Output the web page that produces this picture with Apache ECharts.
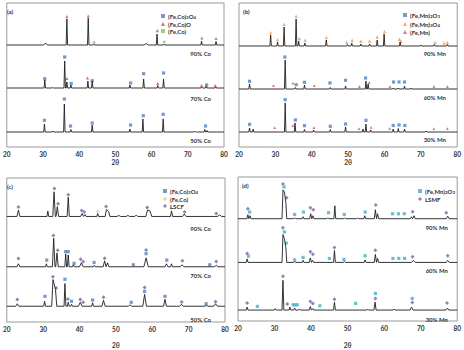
<!DOCTYPE html>
<html>
<head>
<meta charset="utf-8">
<script src="https://cdn.jsdelivr.net/npm/echarts@6/dist/echarts.min.js"></script>
<style>html,body{margin:0;padding:0;background:#fff}#chart{width:464px;height:350px}</style>
</head>
<body>
<div id="chart"></div>
<script>
// 2θ axis
const xMin = 20, xMax = 80, xStep = 10;

// sample labels (top to bottom)
const samplesA = ['90% Co', '70% Co', '50% Co'];
const samplesB = ['90% Mn', '60% Mn', '30% Mn'];
const samplesC = ['90% Co', '70% Co', '50% Co'];
const samplesD = ['90% Mn', '60% Mn', '30% Mn'];

// peaks: [2θ, height above baseline, optional half width]
const aPeaks90 = [[30.7,2,0.5],[36.6,26],[42.5,27],[44.1,0.8],[58.5,1.5,0.6],[61.5,11],[63.5,1],[73.8,4],[77.8,3.5]];
const aPeaks70 = [[30.5,8],[32.7,0.6],[36.0,27],[36.6,6],[37.7,3],[42.4,7],[43.6,7],[54.0,3],[57.8,9],[61.7,2.5],[63.3,9],[73.8,1],[75.1,2],[77.7,1]];
const aPeaks50 = [[30.4,8],[32.7,1],[35.9,28],[37.7,2.5],[43.6,7],[54.0,3],[57.6,13],[63.2,13],[71.9,0.8],[74.7,2.5],[75.3,1.5]];

const bPeaks90 = [[28.7,11],[30.6,4],[32.4,19],[35.7,27],[36.4,5],[38.1,3],[44.0,6],[49.8,1.5],[51.0,3],[53.5,2],[55.9,2],[58.0,6],[59.9,12],[64.3,4],[70.0,1],[73.7,1.5],[77.3,1.5]];
const bPeaks60 = [[22.9,5],[32.7,29],[35.5,1.5],[38.0,4],[45.1,1.5],[49.3,3],[54.9,8],[55.5,5],[62.4,1],[63.8,1],[65.5,3],[67.3,1]];
const bPeaks30 = [[22.9,4],[23.9,3],[32.7,29],[35.4,9],[38.0,2.5],[40.5,2],[45.1,2.5],[49.3,5],[54.1,3],[54.9,8],[56.2,2],[62.4,3],[63.8,3.5],[65.5,3],[71.4,1]];

const cPeaks90 = [[23.2,6.5,0.4],[31.3,5.5],[33.0,25,0.35],[33.9,10,0.35],[36.9,19.5,0.3],[40.7,3,0.4],[41.5,2,0.3],[45.0,3],[47.4,7,0.35],[48.0,5,0.35],[50.8,1,0.5],[53.3,1,0.5],[55.6,1.5,0.4],[58.7,6.5,0.45],[59.4,5.5,0.45],[65.3,5.5,0.3],[68.8,2.5,0.5],[78.5,1.5,0.6]];
const cPeaks70 = [[23.2,3,0.4],[30.9,3],[32.9,29,0.35],[33.8,14,0.35],[36.2,13],[36.9,12],[38.3,2],[40.5,4,0.5],[44.1,1.5],[46.9,6,0.4],[47.7,4,0.4],[58.3,9,0.6],[63.9,3,0.4],[65.3,3],[68.2,2,0.5],[77.6,1.5,0.5]];
const cPeaks50 = [[22.9,2.5,0.4],[30.4,5],[32.7,27,0.35],[33.4,17,0.35],[36.0,23],[36.9,4],[37.8,2],[40.2,4,0.5],[43.6,3.5],[46.6,6,0.45],[53.9,1.5,0.4],[57.9,12,0.5],[63.5,7,0.4],[68.0,2,0.5],[74.9,1,0.4],[77.4,2.5,0.5]];

const dPeaks90 = [[22.7,4],[23.3,3],[32.3,29],[32.7,27],[33.1,16],[35.5,1],[37.8,2],[39.9,5,0.3],[40.5,3,0.3],[44.6,1],[46.5,13],[49.1,1],[52.7,1],[54.7,3],[57.6,9,0.3],[58.2,5,0.3],[67.5,2,0.3],[68.2,3,0.3],[77.4,2.5,0.4]];
const dPeaks60 = [[22.5,3.5],[32.3,28],[32.7,24],[33.1,15],[35.5,1],[37.8,2],[39.8,4.5,0.3],[40.4,2,0.3],[46.4,12],[49.1,1],[54.8,2.5],[57.6,8,0.3],[58.2,4,0.3],[68.0,2,0.5],[77.4,2,0.4]];
const dPeaks30 = [[22.5,3],[30.2,1.5],[32.3,30],[34.2,3],[35.5,2],[36.8,1],[39.8,3.5,0.3],[40.5,1.5],[46.4,8],[55.5,1],[57.5,8,0.3],[62.7,1],[67.5,3,0.4],[77.3,2,0.4]];

// phase markers: [2θ, height above baseline]
const aSpinel70 = [[30.5,9.3],[36.0,31],[37.8,4.5],[43.6,7.3],[54.2,5],[57.8,14.3],[63.3,15],[75.2,3]];
const aSpinel50 = [[30.4,11.7],[35.9,33],[37.6,6],[43.6,9],[54.2,7],[57.7,16.3],[63.2,17.7],[74.9,6]];
const aMono90 = [[36.6,28.3],[42.5,29],[61.6,14.3],[73.9,7],[77.8,6.5]];
const aMono70 = [[36.6,9.5],[42.3,10],[61.7,4.5],[73.8,2.5],[77.6,2.5]];
const aMetal90 = [[44.1,2.5],[63.5,3]];

const bSpinel90 = [[28.7,13.3],[30.6,6.3],[32.4,21.7],[35.7,29.7],[36.6,7.5],[38.2,5.7],[44.0,8.5],[49.6,3.7],[51.1,5.7],[53.5,4.7],[55.9,5],[58.0,9],[60.0,14.5],[64.1,6.7],[64.5,5],[73.9,3.5],[76.4,3],[77.3,3.5]];
const bHem60 = [[22.9,7.7],[32.6,32],[35.7,4.3],[38.0,6.7],[45.0,6],[49.3,8.7],[54.8,11],[62.5,7],[64.0,7],[65.5,7]];
const bMetal60 = [[29.5,3.3],[34.8,6],[40.7,3.3],[53.1,2.5],[55.8,6.5],[61.5,2.5],[73.6,2.5],[77.3,2.5]];
const bHem30 = [[22.9,7.7],[32.7,32.3],[35.5,12],[38.0,6.3],[45.1,5.7],[49.3,8],[54.9,11.7],[62.4,6.5],[64.0,7],[65.6,6.5]];
const bMetal30 = [[29.8,4.3],[34.8,6.3],[40.6,4.5],[53.0,3.3],[56.3,4.7],[61.4,3.3],[73.6,3.3],[77.3,3.3]];

const cLscf90 = [[23.2,9.5],[33.1,28.3],[34.1,13],[36.9,22],[40.6,6],[41.3,4.5],[47.3,10],[58.6,9],[68.9,4.5],[77.6,3]];
const cMetal90 = [[45.0,5],[65.2,8]];
const cLscf70 = [[23.2,8.3],[32.8,31.7],[34.0,16.7],[40.3,7.7],[41.0,5],[46.9,8.7],[58.3,17],[68.3,6],[77.6,5.3]];
const cSpinel70 = [[31.0,6.7],[36.2,15.3],[36.9,15.3],[38.5,3.5],[44.0,4.3],[54.8,2],[58.3,13.3],[64.0,6.7],[75.8,2]];
const cLscf50 = [[22.9,6.7],[32.7,30],[33.6,18.5],[36.8,7.3],[40.2,6.7],[41.0,4],[46.6,9],[57.9,19],[68.1,4.3],[77.4,4.5]];
const cSpinel50 = [[30.5,10],[36.0,27.3],[37.8,5],[43.6,6.3],[54.2,4],[57.9,15],[63.5,10],[74.8,2.5]];

const dLsmf90 = [[22.7,10],[32.3,35],[33.3,21],[39.8,11],[40.6,9],[57.7,13.7],[67.8,7],[77.0,6]];
const dHem90 = [[23.2,6.7],[32.6,32],[35.5,4.3],[37.9,6.7],[44.8,6],[49.1,4.3],[54.8,6.7],[62.3,5],[63.9,5],[65.5,5]];
const dLsmf60 = [[22.5,9],[32.3,35],[39.8,10.7],[40.5,8.3],[46.4,15],[57.6,12.3],[67.8,5.7],[77.4,6.7]];
const dHem60 = [[22.9,6.3],[32.7,30.7],[33.2,19.5],[35.5,2.5],[37.8,5],[45.0,4],[49.0,3],[54.8,6.7],[62.4,4],[64.0,4],[65.6,4]];
const dLsmf30 = [[22.5,7],[32.3,34],[33.5,6],[39.8,8.7],[40.5,6.7],[46.4,11],[57.6,11.7],[67.7,7.7],[77.2,7]];
const dHem30 = [[25.3,3.7],[35.1,5.3],[35.6,5.3],[36.2,5.3],[42.4,4.3],[52.2,6.7],[57.6,16.7],[67.7,11.7]];

const FONT = 'Lato, "Open Sans", sans-serif';
const plus = 'path://M2,0H3V2H5V3H3V5H2V3H0V2H2Z';

const phases = {
  '(Fe,Co)3O4': { symbol: 'rect', size: 3.2, color: '#4f81bd' },
  '(Fe,Co)O':   { symbol: 'triangle', size: 3.2, color: '#c0504d' },
  '(Fe,Co)':    { symbol: 'rect', size: 2.6, color: '#9bbb59' },
  '(Fe,Mn)2O3': { symbol: 'rect', size: 3.2, color: '#4f81bd' },
  '(Fe,Mn)3O4': { symbol: 'triangle', size: 3.4, color: '#f79646' },
  '(Fe,Mn)':    { symbol: 'triangle', size: 2.8, color: '#d4506e' },
  'LSCF':       { symbol: 'diamond', size: 4, color: '#7464a8' },
  'LSMF':       { symbol: 'diamond', size: 4, color: '#7464a8' },
  'cyan':       { symbol: 'rect', size: 3.2, color: '#4bacc6' },
  'fecoY':      { symbol: plus, size: 4, color: '#c4c43a' }
};

const panels = [
  { tag: '(a)', left: 3, top: 3, width: 221, height: 144, bases: [102, 59, 15], hw: 0.2, nameGap: 12,
    traces: [aPeaks90, aPeaks70, aPeaks50], samples: samplesA, sampleX: 211, sampleY: [53, 98, 140],
    marks: [['(Fe,Co)3O4', 1, aSpinel70], ['(Fe,Co)3O4', 2, aSpinel50], ['(Fe,Co)O', 0, aMono90], ['(Fe,Co)O', 1, aMono70], ['(Fe,Co)', 0, aMetal90]],
    legend: [['(Fe,Co)3O4', '(Fe,Co)3O4'], ['(Fe,Co)O', '(Fe,Co)O'], ['(Fe,Co)', '(Fe,Co)']], legendPos: [161, 12] },
  { tag: '(b)', left: 239, top: 3, width: 221, height: 144, bases: [101, 58, 15], hw: 0.2, nameGap: 12,
    traces: [bPeaks90, bPeaks60, bPeaks30], samples: samplesB, sampleX: 446, sampleY: [53, 97, 139],
    marks: [['(Fe,Mn)3O4', 0, bSpinel90], ['(Fe,Mn)2O3', 1, bHem60], ['(Fe,Mn)', 1, bMetal60], ['(Fe,Mn)2O3', 2, bHem30], ['(Fe,Mn)', 2, bMetal30]],
    legend: [['(Fe,Mn)2O3', '(Fe,Mn)2O3'], ['(Fe,Mn)3O4', '(Fe,Mn)3O4'], ['(Fe,Mn)', '(Fe,Mn)']], legendPos: [403, 11] },
  { tag: '(c)', left: 3, top: 178, width: 222, height: 146, bases: [107, 56, 16], hw: 0.25, nameGap: 20,
    traces: [cPeaks90, cPeaks70, cPeaks50], samples: samplesC, sampleX: 211, sampleY: [228, 275, 319],
    marks: [['LSCF', 0, cLscf90], ['fecoY', 0, cMetal90], ['LSCF', 1, cLscf70], ['(Fe,Co)3O4', 1, cSpinel70], ['LSCF', 2, cLscf50], ['(Fe,Co)3O4', 2, cSpinel50]],
    legend: [['(Fe,Co)3O4', '(Fe,Co)3O4'], ['fecoY', '(Fe,Co)'], ['LSCF', 'LSCF']], legendPos: [163, 187] },
  { tag: '(d)', left: 238, top: 177, width: 222, height: 145, bases: [103, 59, 11], hw: 0.25, nameGap: 21,
    traces: [dPeaks90, dPeaks60, dPeaks30], samples: samplesD, sampleX: 448, sampleY: [227, 270, 319],
    marks: [['LSMF', 0, dLsmf90], ['cyan', 0, dHem90], ['LSMF', 1, dLsmf60], ['cyan', 1, dHem60], ['LSMF', 2, dLsmf30], ['cyan', 2, dHem30]],
    legend: [['cyan', '(Fe,Mn)2O3'], ['LSMF', 'LSMF']], legendPos: [418, 187] }
];

// turn peak list into a polyline on a flat baseline
function tracePoints(peaks, base, hw) {
  const pts = [[xMin, base]];
  peaks.forEach(p => {
    const w = p[2] || hw;
    const last = pts[pts.length - 1];
    if (pts.length > 1 && p[0] - w <= last[0]) pts.pop();
    else pts.push([p[0] - w, base]);
    pts.push([p[0], base + p[1]]);
    pts.push([p[0] + w, base]);
  });
  pts.push([xMax, base]);
  return pts;
}

function subs(s) { return s.replace(/(\d)/g, '{s|$1}'); }

const grid = [], xAxis = [], yAxis = [], series = [], legend = [], graphic = [];
panels.forEach((p, i) => {
  grid.push({ left: p.left, top: p.top, width: p.width, height: p.height, show: true, borderColor: '#9a9a9a', borderWidth: 1, backgroundColor: '#fff' });
  xAxis.push({ gridIndex: i, type: 'value', min: xMin, max: xMax, interval: xStep,
    axisLine: { show: false }, axisTick: { show: false }, splitLine: { show: false },
    axisLabel: { fontSize: 6.5, fontFamily: FONT, color: '#333', fontWeight: 'bold', margin: 4 },
    name: '2θ', nameLocation: 'middle', nameGap: p.nameGap,
    nameTextStyle: { fontSize: 6.5, fontFamily: FONT, color: '#333', fontWeight: 'bold' } });
  yAxis.push({ gridIndex: i, type: 'value', min: 0, max: p.height, show: false });
  p.traces.forEach((t, k) => {
    series.push({ type: 'line', xAxisIndex: i, yAxisIndex: i, showSymbol: false, silent: true,
      lineStyle: { color: '#1e1e1e', width: 0.9 }, data: tracePoints(t, p.bases[k], p.hw) });
  });
  p.marks.forEach(m => {
    const ph = phases[m[0]];
    series.push({ type: 'scatter', name: m[0], xAxisIndex: i, yAxisIndex: i, symbol: ph.symbol, symbolSize: ph.size,
      itemStyle: { color: ph.color }, data: m[2].map(d => [d[0], p.bases[m[1]] + d[1]]) });
  });
  const labels = {};
  p.legend.forEach(l => { labels[l[0]] = l[1]; });
  legend.push({ orient: 'vertical', left: p.legendPos[0], top: p.legendPos[1], itemWidth: 4, itemHeight: 4, itemGap: 1,
    selectedMode: false, padding: 0,
    data: p.legend.map(l => ({ name: l[0], icon: phases[l[0]].symbol, itemStyle: { color: phases[l[0]].color } })),
    formatter: n => subs(labels[n]),
    textStyle: { fontSize: 6, lineHeight: 6, fontFamily: FONT, color: '#333', fontWeight: 'bold', padding: [0, 0, 0, -2],
      rich: { s: { fontSize: 4.5, lineHeight: 6, fontFamily: FONT, color: '#333', fontWeight: 'bold', padding: [3, 0, 0, 0] } } } });
  graphic.push({ type: 'text', left: p.left + 4, top: p.top + 5, style: { text: p.tag, font: 'bold 6px ' + FONT, fill: '#333' } });
  p.samples.forEach((s, k) => {
    graphic.push({ type: 'text', x: p.sampleX, y: p.sampleY[k], style: { text: s, font: 'bold 6px ' + FONT, fill: '#333', align: 'right', verticalAlign: 'middle' } });
  });
});

const chart = echarts.init(document.getElementById('chart'), null, { renderer: 'svg' });
chart.setOption({ animation: false, backgroundColor: '#fff', grid, xAxis, yAxis, series, legend, graphic });
</script>
</body>
</html>
